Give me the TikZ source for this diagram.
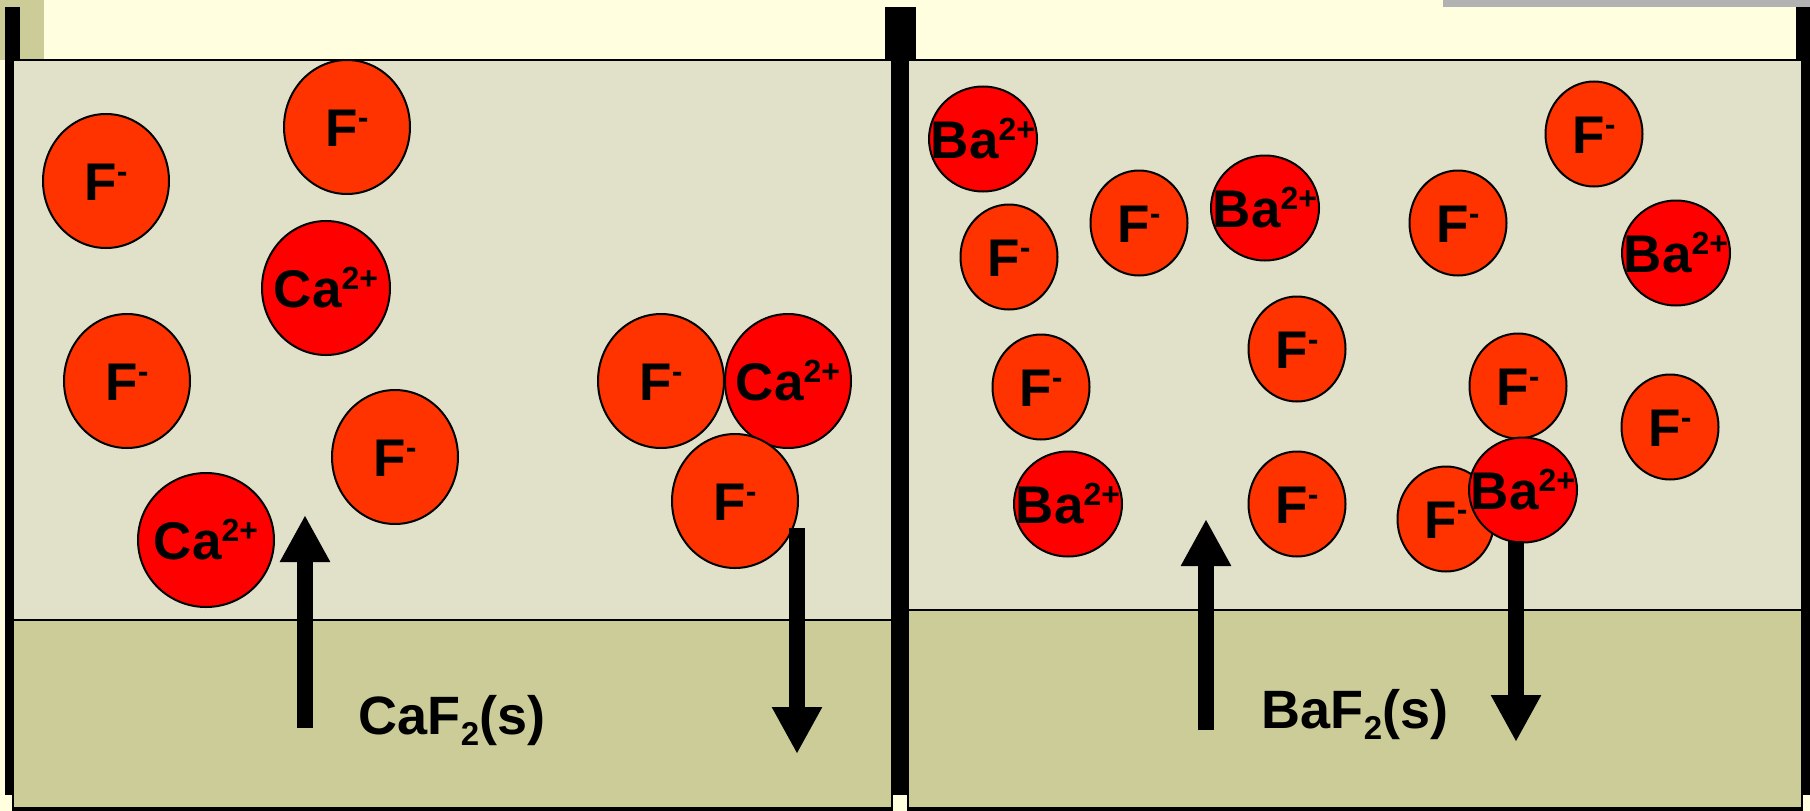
\documentclass[tikz,border=0pt]{standalone}
\usepackage{fontspec}
\setmainfont{Liberation Sans}
\usetikzlibrary{arrows.meta,shapes.geometric}
\definecolor{bgy}{RGB}{255,255,224}
\definecolor{liq}{RGB}{225,225,201}
\definecolor{sol}{RGB}{204,204,153}
\definecolor{fion}{RGB}{255,51,0}
\definecolor{cion}{RGB}{255,0,0}
\definecolor{grayb}{RGB}{178,178,178}
\newcommand{\ionsup}[1]{\raisebox{18pt}{\fontsize{32}{32}\selectfont #1}}
\newcommand{\chemsub}[1]{\raisebox{-11pt}{\fontsize{33}{33}\selectfont #1}}
\newcommand{\iontext}[1]{\makebox[0pt]{\raisebox{-19pt}[0pt][0pt]{#1}}}
\begin{document}
\begin{tikzpicture}[x=1pt,y=-1pt,
  ion/.style={ellipse,draw=black,line width=2pt,inner sep=0pt,outer sep=0pt,
    font=\fontsize{53}{53}\selectfont\bfseries},
  fbig/.style={ion,fill=fion,minimum width=126pt,minimum height=134pt},
  cbig/.style={ion,fill=cion,minimum width=128pt,minimum height=134pt},
  fsmall/.style={ion,fill=fion,minimum width=97pt,minimum height=105pt},
  bsmall/.style={ion,fill=cion,minimum width=108pt,minimum height=105pt},
  bigarrow/.style={line width=16pt,-{Triangle[width=47pt,length=47pt]}},
  lab/.style={anchor=base,inner sep=0pt,font=\fontsize{54}{54}\selectfont\bfseries},
  wall/.style={fill=black},
  liquid/.style={draw=black,line width=2pt,fill=liq},
  solid/.style={draw=black,line width=2pt,fill=sol}]
\useasboundingbox (0,0) rectangle (1810,811);
\fill[bgy] (0,0) rectangle (1810,811);
\fill[sol] (0,0) rectangle (44,60);
\fill[grayb] (1443,0) rectangle (1810,7);
% walls
\fill[wall] (5,7) rectangle (20,795);
\fill[wall] (885,7) rectangle (900,795);
\fill[wall] (900,7) rectangle (916,795);
\fill[wall] (1796,7) rectangle (1810,795);
% left beaker
\draw[liquid] (13,60) rectangle (892,620);
\draw[solid] (13,620) rectangle (892,808);
\draw[line width=4pt] (12,809) -- (893,809);
% right beaker
\draw[liquid] (908,60) rectangle (1802,610);
\draw[solid] (908,610) rectangle (1802,808);
\draw[line width=4pt] (907,809) -- (1803,809);
% left ions
\node[fbig] (lf1) at (106,181) {\iontext{F\ionsup{-}}};
\node[fbig] (lf2) at (347,127) {\iontext{F\ionsup{-}}};
\node[cbig] (lc1) at (326,288) {\iontext{Ca\ionsup{2+}}};
\node[fbig] (lf3) at (127,381) {\iontext{F\ionsup{-}}};
\node[fbig] (lf4) at (395,457) {\iontext{F\ionsup{-}}};
\node[cbig,minimum width=136pt] (lc2) at (206,540) {\iontext{Ca\ionsup{2+}}};
\node[fbig] (lf5) at (661,381) {\iontext{F\ionsup{-}}};
\node[cbig,minimum width=126pt] (lc3) at (788,381) {\iontext{Ca\ionsup{2+}}};
\node[fbig] (lf6) at (735,501) {\iontext{F\ionsup{-}}};
% right ions
\node[bsmall] (rb1) at (983,139) {\iontext{Ba\ionsup{2+}}};
\node[fsmall] (rf1) at (1009,257) {\iontext{F\ionsup{-}}};
\node[fsmall] (rf2) at (1139,223) {\iontext{F\ionsup{-}}};
\node[bsmall] (rb2) at (1265,208) {\iontext{Ba\ionsup{2+}}};
\node[fsmall] (rf3) at (1458,223) {\iontext{F\ionsup{-}}};
\node[fsmall] (rf4) at (1594,134) {\iontext{F\ionsup{-}}};
\node[bsmall] (rb3) at (1676,253) {\iontext{Ba\ionsup{2+}}};
\node[fsmall] (rf5) at (1297,349) {\iontext{F\ionsup{-}}};
\node[fsmall] (rf6) at (1041,387) {\iontext{F\ionsup{-}}};
\node[fsmall] (rf7) at (1518,386) {\iontext{F\ionsup{-}}};
\node[fsmall] (rf8) at (1670,427) {\iontext{F\ionsup{-}}};
\node[bsmall] (rb4) at (1068,504) {\iontext{Ba\ionsup{2+}}};
\node[fsmall] (rf9) at (1297,504) {\iontext{F\ionsup{-}}};
\node[fsmall] (rf10) at (1446,519) {\iontext{F\ionsup{-}}};
\node[bsmall] (rb5) at (1523,490) {\iontext{Ba\ionsup{2+}}};
% arrows
\coordinate (a1s) at (305,728);
\coordinate (a1e) at (305,515);
\coordinate (a2s) at (797,528);
\coordinate (a2e) at (797,754);
\coordinate (a3s) at (1206,730);
\coordinate (a3e) at (1206,519);
\coordinate (a4s) at (1516,541);
\coordinate (a4e) at (1516,742);
\draw[bigarrow] (a1s) -- (a1e);
\draw[bigarrow] (a2s) -- (a2e);
\draw[bigarrow] (a3s) -- (a3e);
\draw[bigarrow] (a4s) -- (a4e);
% labels
\node[lab] (cal) at (452,734) {CaF\chemsub{2}(s)};
\node[lab] (bal) at (1355,728) {BaF\chemsub{2}(s)};
\end{tikzpicture}
\end{document}
